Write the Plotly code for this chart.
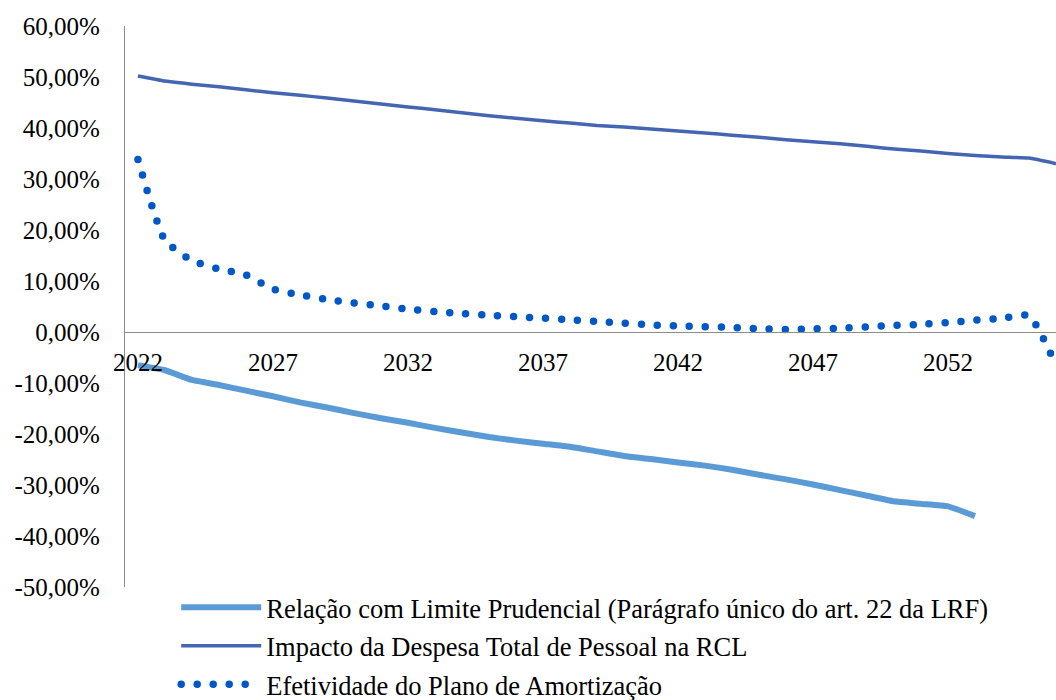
import plotly.graph_objects as go

years = list(range(2022, 2057))

relacao_limite = [-6.5, -7.5, -9.4, -10.4, -11.5, -12.6, -13.8, -14.8, -15.9, -16.9,
                  -17.8, -18.8, -19.7, -20.6, -21.3, -21.9, -22.5, -23.4, -24.3, -24.9,
                  -25.6, -26.2, -27.0, -28.0, -28.9, -29.9, -31.0, -32.1, -33.2, -33.7,
                  -34.2, -36.1]

impacto_dtp = [50.2, 49.2, 48.6, 48.1, 47.5, 46.9, 46.4, 45.9, 45.3, 44.7,
               44.1, 43.6, 43.0, 42.4, 41.9, 41.4, 41.0, 40.5, 40.2, 39.8,
               39.4, 39.0, 38.6, 38.2, 37.7, 37.3, 36.9, 36.4, 35.9, 35.5,
               35.0, 34.6, 34.3, 34.1, 33.0]

efetividade = [33.8, 18.0, 14.0, 12.35, 11.2, 8.4, 7.3, 6.4, 5.7, 5.1,
               4.5, 4.0, 3.6, 3.3, 3.0, 2.7, 2.4, 2.05, 1.75, 1.4,
               1.2, 1.05, 0.9, 0.65, 0.5, 0.6, 0.75, 1.0, 1.3, 1.5,
               1.85, 2.3, 2.7, 3.2, -6.5]

names = ["Relação com Limite Prudencial (Parágrafo único do art. 22 da LRF)",
         "Impacto da Despesa Total de Pessoal na RCL",
         "Efetividade do Plano de Amortização"]

x_ticks = [2022, 2027, 2032, 2037, 2042, 2047, 2052]
y_ticks = [60, 50, 40, 30, 20, 10, 0, -10, -20, -30, -40, -50]
y_ticktext = ["60,00%", "50,00%", "40,00%", "30,00%", "20,00%", "10,00%", "0,00%",
              "-10,00%", "-20,00%", "-30,00%", "-40,00%", "-50,00%"]

FONT = "Liberation Serif"

fig = go.Figure()
fig.add_trace(go.Scatter(x=years[:len(relacao_limite)], y=relacao_limite, mode="lines",
                         name=names[0], legendgroup="a",
                         line=dict(color="#5B9BD5", width=6, shape="spline", smoothing=0.4)))
fig.add_trace(go.Scatter(x=years, y=impacto_dtp, mode="lines", name=names[1], legendgroup="b",
                         line=dict(color="#4466B2", width=3.5, shape="spline", smoothing=0.4)))
fig.add_trace(go.Scatter(x=years, y=efetividade, mode="lines", name=names[2], legendgroup="c",
                         line=dict(color="#0057C6", width=7.5, dash="0px,16px", shape="spline", smoothing=0.5)))

fig.update_layout(
    width=1056, height=700,
    margin=dict(l=125, r=0, t=26, b=113, autoexpand=False),
    paper_bgcolor="white", plot_bgcolor="white",
    font=dict(family=FONT, size=25, color="black"),
    showlegend=True,
    legend=dict(x=0.055, y=0.006, xanchor="left", yanchor="top", traceorder="grouped",
                tracegroupgap=1, itemwidth=80, font=dict(family=FONT, size=26.5, color="black"),
                bgcolor="rgba(0,0,0,0)"),
    xaxis=dict(range=[2021.52, 2056], tickvals=x_ticks, ticktext=[str(v) for v in x_ticks],
               showgrid=False, zeroline=False, showline=True, linecolor="#8c8c8c", linewidth=1.3,
               anchor="free", position=(0 - (-50)) / 110.0, ticks="", ticklabelstandoff=8,
               automargin=False,
               tickfont=dict(family=FONT, size=25, color="black"), fixedrange=True),
    yaxis=dict(range=[-50, 60], tickvals=y_ticks, ticktext=y_ticktext,
               showgrid=False, zeroline=False, showline=True, linecolor="#8c8c8c", linewidth=1.3,
               ticks="", ticklabelstandoff=19, automargin=False,
               tickfont=dict(family=FONT, size=25, color="black"), fixedrange=True),
)

post = """
document.body.style.margin = '0';
document.body.style.padding = '0';
var st = document.createElement('style');
st.innerHTML = 'path.js-line[style*="dasharray"]{stroke-linecap:round !important;}';
document.head.appendChild(st);
"""

fig.write_html("out.html", post_script=post, config={"displayModeBar": False})
